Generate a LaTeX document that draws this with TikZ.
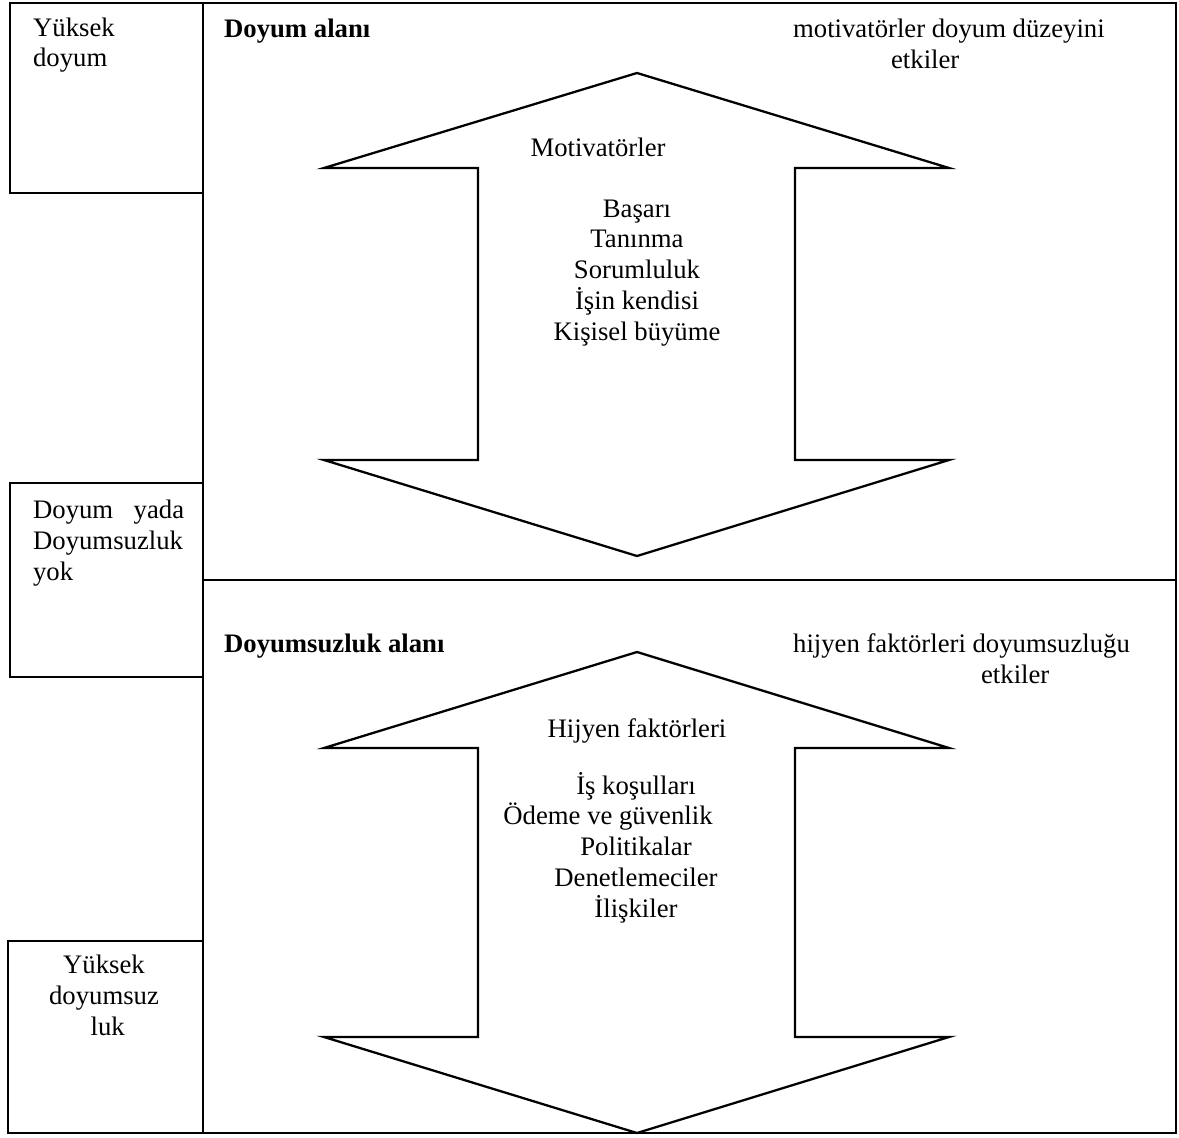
\documentclass[tikz,border=0pt]{standalone}
\usepackage{fontspec}
\setmainfont{Liberation Serif}
\usepackage{tikz}

\begin{document}
\begin{tikzpicture}[x=0.02cm, y=-0.02cm, line width=1.3pt,
		every node/.style={font=\fontsize{15.2}{17.5}\selectfont, inner sep=0pt},
		lbl/.style={anchor=base west, align=left},
		lst/.style={anchor=base, align=center}]
		\useasboundingbox (0,0) rectangle (1179,1138);
		% frame and the two fields
		\draw (203,3) rectangle (1176,1133);
		\draw (203,580) -- (1176,580);
		\draw (10,3) rectangle (203,193);
		\draw (10,483) rectangle (203,677);
		\draw (8,941) rectangle (203,1133);
		% double arrows
		\draw (637,73) -- (949,168) -- (795,168) -- (795,460) -- (949,460) -- (637,556)
			-- (324,460) -- (478,460) -- (478,168) -- (324,168) -- cycle;
		\draw (637,652) -- (949,748) -- (795,748) -- (795,1037) -- (949,1037) -- (637,1133)
			-- (324,1037) -- (478,1037) -- (478,748) -- (324,748) -- cycle;
		% left scale (base = last line)
		\node (hi) at (32,67) [lbl] {Yüksek\\doyum};
		\node (mid) at (32,580) [lbl] {\makebox[3.02cm][s]{Doyum yada}\\Doyumsuzluk\\yok};
		\node (lo) at (104,1035) [lst] {Yüksek\\doyumsuz\\\hspace*{0.15cm}luk};
		% upper field
		\node (sat) at (223,38) [lbl] {\bfseries Doyum alanı};
		\node (satnote) at (792,68.5) [lbl] {motivatörler doyum düzeyini\\\hspace*{1.96cm}etkiler};
		\node (mot) at (598,157) [lst] {Motivatörler};
		\node (motlist) at (637,340) [lst] {Başarı\\Tanınma\\Sorumluluk\\İşin kendisi\\Kişisel büyüme};
		% lower field
		\node (dis) at (223,652) [lbl] {\bfseries Doyumsuzluk alanı};
		\node (disnote) at (792,683) [lbl] {hijyen faktörleri doyumsuzluğu\\\hspace*{3.76cm}etkiler};
		\node (hyg) at (637,737) [lst] {Hijyen faktörleri};
		\node (hyglist) at (636,917) [lst] {İş koşulları\\Ödeme ve güvenlik\hspace{1.12cm}\mbox{}\\Politikalar\\Denetlemeciler\\İlişkiler};
\end{tikzpicture}
\end{document}
